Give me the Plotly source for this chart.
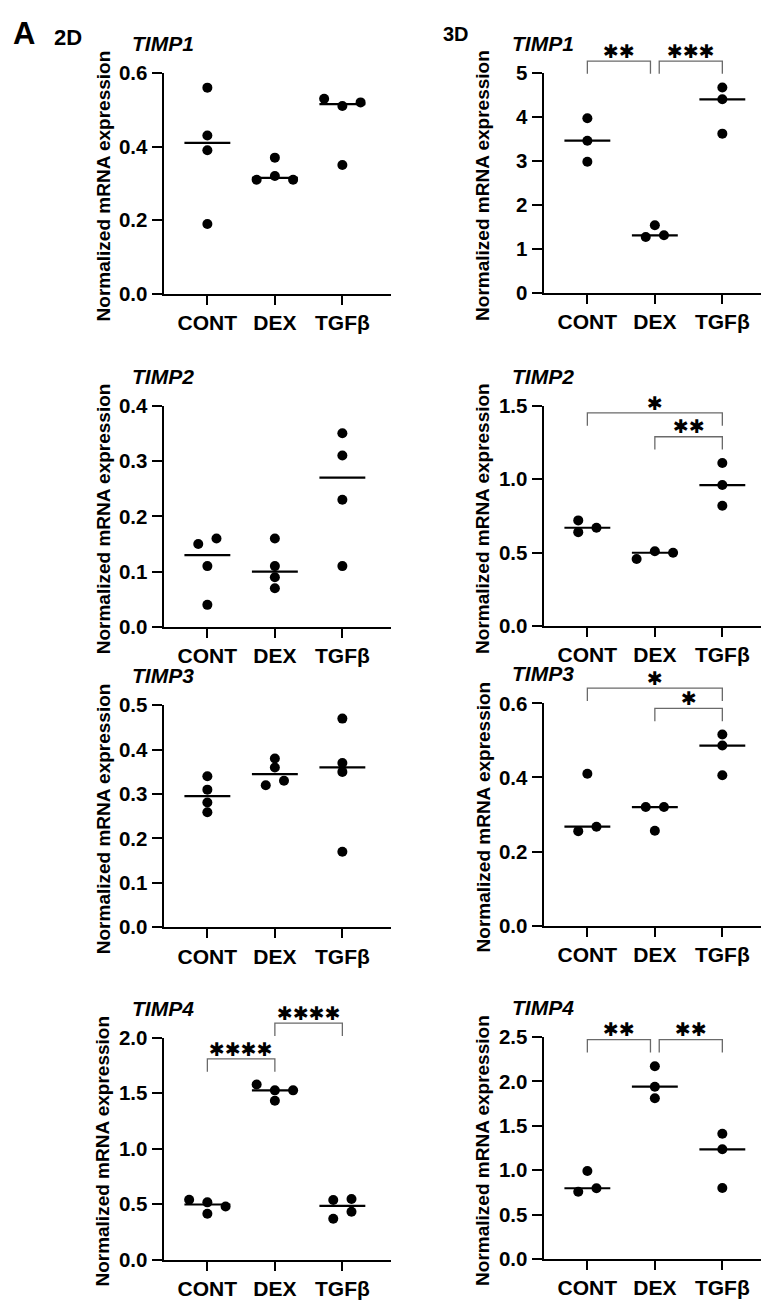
import statistics
import plotly.graph_objects as go

# ---------------- data ----------------
CATEGORIES = ["CONT", "DEX", "TGFβ"]
GENES = ["TIMP1", "TIMP2", "TIMP3", "TIMP4"]

TIMP1_2D = [[0.56, 0.43, 0.39, 0.19], [0.32, 0.31, 0.31, 0.37], [0.51, 0.53, 0.52, 0.35]]
TIMP1_3D = [[3.97, 3.46, 2.98], [1.31, 1.54, 1.27], [4.67, 4.40, 3.62]]
TIMP2_2D = [[0.16, 0.15, 0.11, 0.04], [0.16, 0.11, 0.09, 0.07], [0.35, 0.31, 0.23, 0.11]]
TIMP2_3D = [[0.67, 0.72, 0.64], [0.51, 0.457, 0.50], [1.11, 0.96, 0.82]]
TIMP3_2D = [[0.34, 0.31, 0.281, 0.259], [0.38, 0.36, 0.33, 0.32], [0.47, 0.37, 0.35, 0.17]]
TIMP3_3D = [[0.267, 0.255, 0.41], [0.32, 0.32, 0.256], [0.516, 0.486, 0.406]]
TIMP4_2D = [[0.516, 0.54, 0.478, 0.413], [1.525, 1.578, 1.525, 1.431], [0.546, 0.537, 0.431, 0.369]]
TIMP4_3D = [[0.796, 0.756, 0.99], [2.17, 1.94, 1.81], [1.41, 1.235, 0.80]]

Y_MAX_2D = [0.6, 0.4, 0.5, 2.0]
Y_MAX_3D = [5, 1.5, 0.6, 2.5]
Y_STEP_2D = [0.2, 0.1, 0.1, 0.5]
Y_STEP_3D = [1, 0.5, 0.2, 0.5]

# significance comparisons: (group a, group b, label)
SIG_TIMP1_2D = []
SIG_TIMP1_3D = [(0, 1, "**"), (1, 2, "***")]
SIG_TIMP2_2D = []
SIG_TIMP2_3D = [(0, 2, "*"), (1, 2, "**")]
SIG_TIMP3_2D = []
SIG_TIMP3_3D = [(0, 2, "*"), (1, 2, "*")]
SIG_TIMP4_2D = [(0, 1, "****"), (1, 2, "****")]
SIG_TIMP4_3D = [(0, 1, "**"), (1, 2, "**")]

# ---------------- layout (pixels) ----------------
FIG_W, FIG_H = 761, 1307
COL_X = [(163.5, 390.5), (543.5, 761.0)]
X_RANGES = [(-0.65, 2.713), (-0.65, 2.573)]
PANEL_Y = [[(62.0, 287.0), (62.0, 286.0)],
           [(400.7, 626.0), (400.7, 625.3)],
           [(705.7, 931.7), (703.7, 930.0)],
           [(1044.0, 1270.0), (1043.3, 1269.3)]]
# bracket heights as fraction of the y-axis length
BRACKET_LEVELS = {
    1: [1.054, 1.054],
    3: [0.967, 0.859],
    5: [1.068, 0.977],
    6: [0.904, 1.065],
    7: [0.988, 0.988],
}
DOT_PX = 10
COLLIDE_PX = 8.5
SLOT = 0.27
MED_HALF = 0.34
FONT = "Liberation Sans"

PANELS = [
    (GENES[0], TIMP1_2D, Y_MAX_2D[0], Y_STEP_2D[0], SIG_TIMP1_2D),
    (GENES[0], TIMP1_3D, Y_MAX_3D[0], Y_STEP_3D[0], SIG_TIMP1_3D),
    (GENES[1], TIMP2_2D, Y_MAX_2D[1], Y_STEP_2D[1], SIG_TIMP2_2D),
    (GENES[1], TIMP2_3D, Y_MAX_3D[1], Y_STEP_3D[1], SIG_TIMP2_3D),
    (GENES[2], TIMP3_2D, Y_MAX_2D[2], Y_STEP_2D[2], SIG_TIMP3_2D),
    (GENES[2], TIMP3_3D, Y_MAX_3D[2], Y_STEP_3D[2], SIG_TIMP3_3D),
    (GENES[3], TIMP4_2D, Y_MAX_2D[3], Y_STEP_2D[3], SIG_TIMP4_2D),
    (GENES[3], TIMP4_3D, Y_MAX_3D[3], Y_STEP_3D[3], SIG_TIMP4_3D),
]


def swarm_offsets(vals, px_per_unit):
    """Greedy beeswarm (data order), then re-centre each overlapping cluster."""
    placed = []
    for v in vals:
        for k in [0, -1, 1, -2, 2, -3, 3]:
            if all(not (kk == k and abs(vv - v) * px_per_unit < COLLIDE_PX) for vv, kk in placed):
                placed.append((v, k))
                break
    ks = [k for _, k in placed]
    order = sorted(range(len(vals)), key=lambda i: vals[i])
    clusters, cur = [], [order[0]]
    for a, b in zip(order, order[1:]):
        if (vals[b] - vals[a]) * px_per_unit < COLLIDE_PX:
            cur.append(b)
        else:
            clusters.append(cur)
            cur = [b]
    clusters.append(cur)
    offs = [0.0] * len(vals)
    for c in clusters:
        mid = (min(ks[i] for i in c) + max(ks[i] for i in c)) / 2
        for i in c:
            offs[i] = (ks[i] - mid) * SLOT
    return offs


fig = go.Figure()
layout = dict(
    width=FIG_W, height=FIG_H, margin=dict(l=0, r=0, t=0, b=0),
    paper_bgcolor="white", plot_bgcolor="white", showlegend=False,
    font=dict(family=FONT, color="black"),
)
annotations = []
shapes = []

for p, (gene, groups, ymax, ystep, sigs) in enumerate(PANELS):
    row, col = p // 2, p % 2
    sfx = "" if p == 0 else str(p + 1)
    xid, yid = "x" + sfx, "y" + sfx
    top_px, bot_px = PANEL_Y[row][col]
    h_px = bot_px - top_px
    x0_px, x1_px = COL_X[col]
    px_per_unit = h_px / ymax

    for gi, vals in enumerate(groups):
        offs = swarm_offsets(vals, px_per_unit)
        fig.add_trace(go.Scatter(
            x=[gi + o for o in offs], y=vals, mode="markers",
            marker=dict(size=DOT_PX, color="black", line=dict(width=0)),
            xaxis=xid, yaxis=yid, cliponaxis=False, hoverinfo="skip"))
        med = statistics.median(vals)
        fig.add_trace(go.Scatter(
            x=[gi - MED_HALF, gi + MED_HALF], y=[med, med], mode="lines",
            line=dict(color="black", width=2.2),
            xaxis=xid, yaxis=yid, hoverinfo="skip"))

    n_ticks = int(round(ymax / ystep))
    tickvals = [round(i * ystep, 6) for i in range(n_ticks + 1)]
    fmt = "{:.0f}" if ystep >= 1 else "{:.1f}"
    ticktext = [fmt.format(v) for v in tickvals]

    layout["xaxis" + sfx] = dict(
        domain=[x0_px / FIG_W, x1_px / FIG_W], range=list(X_RANGES[col]),
        anchor=yid, tickmode="array", tickvals=[0, 1, 2], ticktext=CATEGORIES,
        showline=True, linewidth=2, linecolor="black", mirror=False,
        ticks="outside", ticklen=9, tickwidth=2, tickcolor="black",
        showgrid=False, zeroline=False, fixedrange=True,
        tickfont=dict(family=FONT, size=21, color="black", weight="bold"),
    )
    layout["yaxis" + sfx] = dict(
        domain=[1 - bot_px / FIG_H, 1 - top_px / FIG_H], range=[0, ymax],
        anchor=xid, tickmode="array", tickvals=tickvals, ticktext=ticktext,
        showline=True, linewidth=2, linecolor="black",
        ticks="outside", ticklen=10, tickwidth=2, tickcolor="black",
        showgrid=False, zeroline=False, fixedrange=True,
        tickfont=dict(family=FONT, size=20.5, color="black", weight="bold"),
    )

    # gene title centred over the y axis
    axis_px = x0_px - 1
    annotations.append(dict(
        text=gene, xref="paper", yref="paper",
        x=axis_px / FIG_W, y=1 - (top_px - 30) / FIG_H,
        xanchor="center", yanchor="middle", showarrow=False,
        font=dict(family=FONT, size=21, color="black", weight="bold", style="italic")))
    # y axis title
    annotations.append(dict(
        text="Normalized mRNA expression", xref="paper", yref="paper",
        x=(axis_px - 59.5) / FIG_W, y=1 - ((top_px + bot_px) / 2 + 3) / FIG_H,
        xanchor="center", yanchor="middle", textangle=-90, showarrow=False,
        font=dict(family=FONT, size=19, color="black", weight="bold")))

    # significance brackets
    if sigs:
        levels = BRACKET_LEVELS[p]
        leg = 13.0 / h_px
        star_off = 10.5 / h_px
        gap = 0.065
        for si, (a, b, lab) in enumerate(sigs):
            lvl = levels[si]
            xa, xb = float(a), float(b)
            for sj, (c, d, _) in enumerate(sigs):
                if sj != si and abs(levels[sj] - lvl) < 1e-6:
                    if d == a:
                        xa += gap
                    if c == b:
                        xb -= gap
            shapes.append(dict(
                type="path", xref=xid, yref=yid + " domain",
                path=f"M {xa},{lvl - leg} L {xa},{lvl} L {xb},{lvl} L {xb},{lvl - leg}",
                line=dict(color="#6a6a6a", width=1.3)))
            annotations.append(dict(
                text=lab.replace("*", "✱"), xref=xid, yref=yid + " domain",
                x=(xa + xb) / 2, y=lvl + star_off, xanchor="center", yanchor="middle",
                showarrow=False, font=dict(family="DejaVu Sans", size=19, color="black")))

# panel labels
annotations.append(dict(text="A", xref="paper", yref="paper", x=24 / FIG_W, y=1 - 22 / FIG_H,
                        xanchor="center", yanchor="middle", showarrow=False,
                        font=dict(family=FONT, size=31, color="black", weight="bold")))
annotations.append(dict(text="2D", xref="paper", yref="paper", x=68 / FIG_W, y=1 - 26 / FIG_H,
                        xanchor="center", yanchor="middle", showarrow=False,
                        font=dict(family=FONT, size=22, color="black", weight="bold")))
annotations.append(dict(text="3D", xref="paper", yref="paper", x=455.5 / FIG_W, y=1 - 22 / FIG_H,
                        xanchor="center", yanchor="middle", showarrow=False,
                        font=dict(family=FONT, size=20, color="black", weight="bold")))

layout["annotations"] = annotations
layout["shapes"] = shapes
fig.update_layout(**layout)
fig.write_html("out.html",
               config={"displayModeBar": False, "staticPlot": True},
               post_script="document.body.style.margin='0px';document.body.style.padding='0px';")
